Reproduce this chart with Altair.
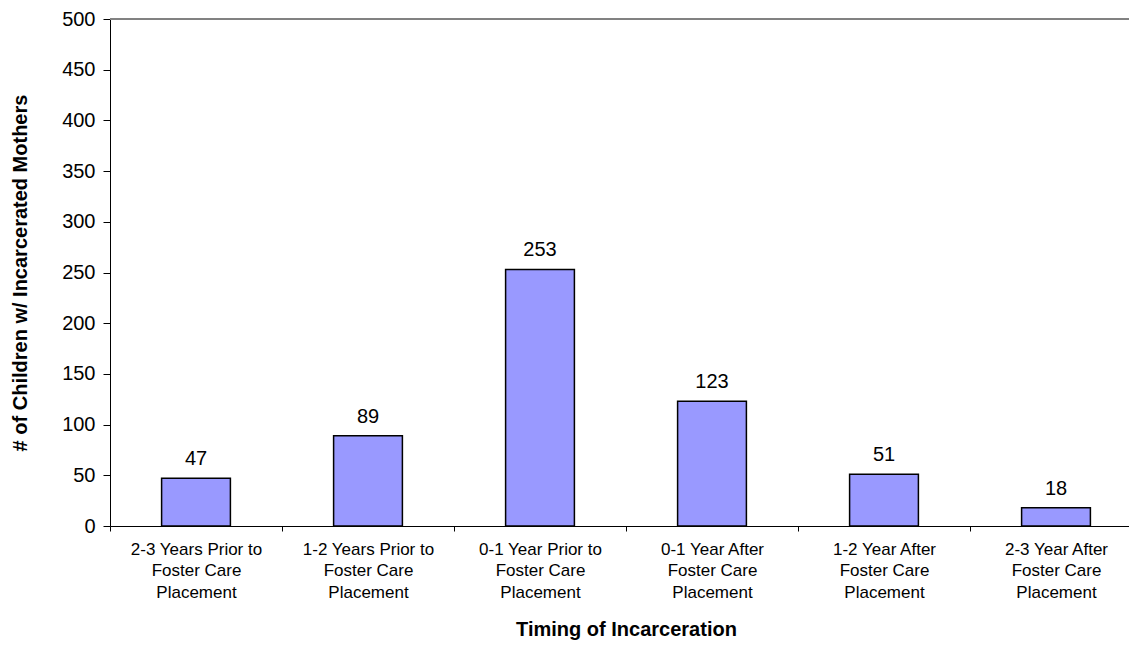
import altair as alt
import pandas as pd

# timing categories (| marks a line break in the axis label) and counts
timing = [
    '2-3 Years Prior to|Foster Care|Placement',
    '1-2 Years Prior to|Foster Care|Placement',
    '0-1 Year Prior to|Foster Care|Placement',
    '0-1 Year After|Foster Care|Placement',
    '1-2 Year After|Foster Care|Placement',
    '2-3 Year After|Foster Care|Placement',
]
children = [47, 89, 253, 123, 51, 18]
y_ticks = list(range(0, 501, 50))

df = pd.DataFrame({'timing': timing, 'children': children})

FONT = 'Liberation Sans'

x_enc = alt.X(
    'timing:N', sort=timing,
    scale=alt.Scale(paddingInner=0, paddingOuter=0),
    axis=alt.Axis(
        title='Timing of Incarceration', labelExpr="split(datum.label, '|')",
        labelAngle=0, labelFontSize=17, labelLineHeight=21.5, labelColor='black',
        labelPadding=10, tickBand='extent', tickSize=5, tickColor='black',
        domainColor='black', titleFontSize=20, titleFontWeight='bold',
        titleColor='black', titlePadding=19, labelFont=FONT, titleFont=FONT,
    ),
)
y_enc = alt.Y(
    'children:Q', scale=alt.Scale(domain=[0, 500], nice=False),
    axis=alt.Axis(
        title='# of Children w/ Incarcerated Mothers', values=y_ticks, grid=False,
        labelFontSize=20, labelColor='black', labelPadding=8, tickSize=7,
        tickColor='black', domainColor='black', titleFontSize=20,
        titleFontWeight='bold', titleColor='black', titlePadding=31,
        labelFont=FONT, titleFont=FONT,
    ),
)

base = alt.Chart(df)

bars = base.mark_bar(
    width=alt.RelativeBandSize(0.4), color='#9999FF', stroke='black', strokeWidth=1.5
).encode(x=x_enc, y=y_enc)

values = base.mark_text(
    baseline='bottom', dy=-9, fontSize=20, font=FONT, color='black'
).encode(x=x_enc, y=y_enc, text='children:Q')

top_line = alt.Chart(df).mark_rule(color='#808080', strokeWidth=1).encode(y=alt.datum(500))

chart = alt.layer(top_line, bars, values).properties(
    width=1032, height=507,
    autosize=alt.AutoSizeParams(type='none'),
    padding={'left': 102, 'top': 11, 'right': -13, 'bottom': 117},
).configure_view(stroke=None).configure(font=FONT)

chart.save('out.html', embed_options={'renderer': 'svg', 'actions': False})
